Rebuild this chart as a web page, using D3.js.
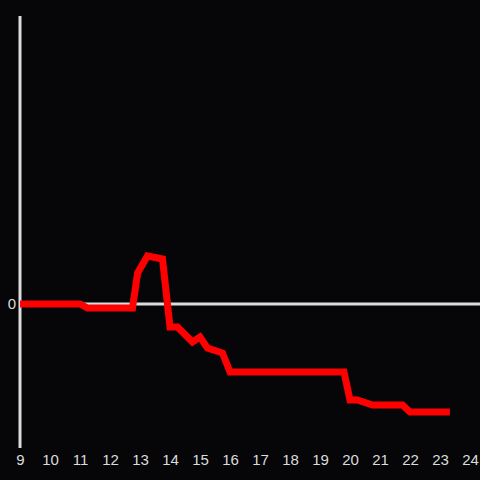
<!DOCTYPE html>
<html lang="en">
  <head>
    <meta charset="UTF-8" />
    <title>Chart</title>
    <script src="https://cdn.jsdelivr.net/npm/d3@7"></script>
    <style>
      body { margin: 0; background: #060608; }
      text { font-family: "Liberation Sans", Arial, sans-serif; }
    </style>
  </head>
  <body>
    <div class="chart"></div>
    <script>
      // hour of day and value
      var hours = [9, 11, 11.25, 12.75, 12.92, 13.25, 13.75, 14, 14.25, 14.75, 15, 15.25, 15.75, 16, 19.8, 20, 20.25, 20.75, 21.75, 22, 23.33]
      var values = [0, 0, -4, -4, 31, 48, 45, -23, -23, -38, -33, -44, -49, -68, -68, -96, -96, -101, -101, -108, -108]
      var xTicks = d3.range(9, 25)

      var W = 480, H = 480
      var svg = d3.select('.chart').append('svg')
        .attr('width', W).attr('height', H)
        .style('background-color', '#060608')

      var x = d3.scaleLinear().domain([9, 24]).range([20, 470])
      var y = d3.scaleLinear().domain([-144, 288]).range([448, 16])

      // zero line
      svg.append('line')
        .attr('x1', x(9)).attr('x2', W)
        .attr('y1', y(0)).attr('y2', y(0))
        .attr('stroke', '#dcdcdc').attr('stroke-width', 3)

      // y axis line
      svg.append('line')
        .attr('x1', x(9)).attr('x2', x(9))
        .attr('y1', y.range()[1]).attr('y2', y.range()[0])
        .attr('stroke', '#dcdcdc').attr('stroke-width', 3)

      // x axis labels
      var xAxis = svg.append('g')
        .attr('transform', 'translate(0,454)')
        .call(d3.axisBottom(x).tickValues(xTicks).tickSize(0).tickPadding(0).tickFormat(d3.format('d')))
      xAxis.select('.domain').remove()
      xAxis.selectAll('text').attr('fill', '#dcdcdc').style('font-size', '15px')

      // y axis label (zero only)
      var yAxis = svg.append('g')
        .attr('transform', 'translate(16,0)')
        .call(d3.axisLeft(y).tickValues([0]).tickSize(0).tickPadding(0))
      yAxis.select('.domain').remove()
      yAxis.selectAll('text').attr('fill', '#dcdcdc').style('font-size', '15px')

      var line = d3.line().x((d, i) => x(hours[i])).y((d) => y(d))
      svg.append('path')
        .datum(values)
        .attr('d', line)
        .attr('fill', 'none')
        .attr('stroke', '#ff0000')
        .attr('stroke-width', 7)
        .attr('stroke-linejoin', 'miter')
    </script>
  </body>
</html>
